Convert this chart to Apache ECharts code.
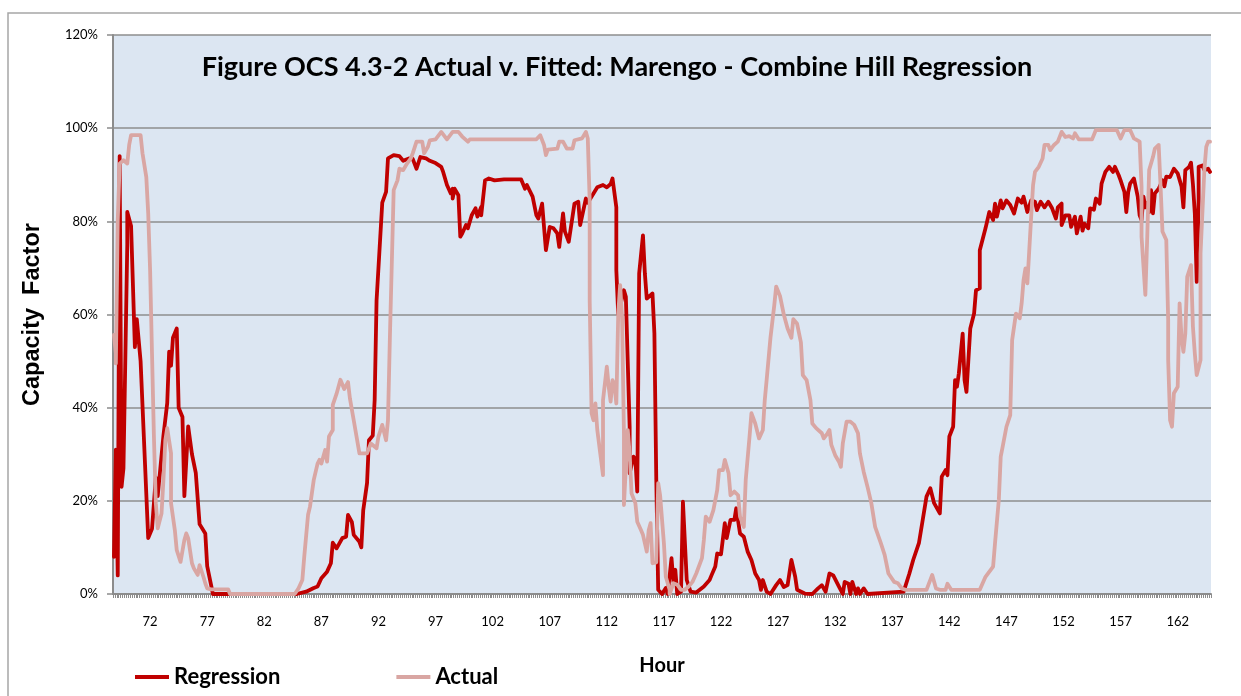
<!DOCTYPE html>
<html>
<head>
<meta charset="utf-8">
<script src="https://cdn.jsdelivr.net/npm/echarts@6/dist/echarts.min.js"></script>
<style>
html,body{margin:0;padding:0;background:#fff;}
#chart{width:1241px;height:696px;}
</style>
</head>
<body>
<div id="chart"></div>
<script>
// ---- Data (hour, capacity factor %) ----
const HOUR_START = 68 + 5 / 6;   // first 10-minute slot shown
const STEPS_PER_HOUR = 6;        // 10-minute data
const N_STEPS = 577;
const tickLabels = ['72','77','82','87','92','97','102','107','112','117','122','127','132','137','142','147','152','157','162'];
const yTicks = [0, 20, 40, 60, 80, 100, 120];

const regression = [
[68.83,8],[68.93,31],[69.10,4],[69.28,94],[69.52,23],[69.72,27],[69.94,75],[70.08,82],[70.33,79],
[70.62,53],[70.89,59],[71.21,50],[71.80,12],[72.15,14],[72.44,25],[72.73,21],[73.17,34],[73.46,41],
[73.60,52],[73.90,49],[74.04,55],[74.25,57],[74.54,40],[74.83,38],[75.07,21],[75.36,36],[75.71,30],
[75.94,26],[76.38,15],[76.76,13],[76.97,6],[77.41,2],[77.55,0],[84.86,0],[85.73,0.5],[86.29,1.3],
[86.72,1.6],[87.05,3.4],[87.49,4.8],[87.78,6.6],[87.98,11],[88.36,9.8],[88.80,12],[89.09,12.3],
[89.29,17],[89.59,15.5],[89.88,12.7],[90.26,11.2],[90.55,10],[90.69,18],[90.99,23.8],[91.22,33],
[91.43,34],[91.63,41.6],[91.87,63],[92.31,84],[92.68,86.3],[92.89,93.5],[93.32,94.2],[93.76,94],
[94.20,93],[94.61,93.5],[95.05,93.4],[95.37,91.3],[95.66,93.8],[96.10,93.5],[96.54,93],[96.98,92.5],
[97.42,91.7],[97.71,90.6],[98.06,87.8],[98.29,86],[98.44,87],[98.58,84.9],[98.73,87],[98.93,85.6],
[99.11,76.7],[99.32,77.4],[99.61,79.2],[99.90,78.5],[100.19,81.3],[100.48,82.8],[100.63,81],
[100.92,83.1],[101.07,81.3],[101.27,88.8],[101.65,89.2],[102.24,88.8],[102.96,89],[103.84,89],
[104.43,89],[104.78,87],[105.07,87.8],[105.45,85.3],[105.80,81.3],[106.03,80.6],[106.33,83.8],
[106.62,73.8],[106.99,78.8],[107.34,78.5],[107.64,77.4],[107.87,74.5],[108.17,81.7],[108.37,77.8],
[108.72,75.6],[109.16,83.8],[109.45,84.2],[109.69,79.2],[110.12,84.9],[110.41,84],[110.80,86],
[111.15,87.3],[111.59,87.8],[112.03,87.3],[112.29,88],[112.55,89.2],[112.75,83],[112.88,69.5],
[113.04,60],[113.43,65.2],[113.72,63.8],[113.92,35.9],[114.07,25.9],[114.36,29.5],[114.55,29],
[114.71,22],[114.89,68.8],[115.18,77],[115.38,68.8],[115.58,63.4],[116.06,64.5],[116.22,56],
[116.41,24.5],[116.55,0.9],[116.85,0],[117.14,1.3],[117.40,0],[117.64,7.7],[117.81,2.6],[118.01,5.2],
[118.19,0],[118.45,0.5],[118.74,19.8],[119.03,3],[119.26,0.5],[119.91,0.3],[120.49,1.6],[120.93,3],
[121.14,4],[121.43,5.9],[121.67,8.7],[121.96,8.5],[122.25,15.2],[122.55,12],[122.83,15.9],[123.10,15.9],
[123.36,18.4],[123.71,13],[124.00,12.3],[124.30,9.1],[124.74,7.3],[125.02,4.4],[125.31,3],[125.46,0.9],
[125.64,3],[125.99,0.5],[126.34,0],[126.77,1.9],[127.15,3],[127.50,1.5],[127.85,1.9],[128.24,7.3],
[128.53,3.7],[128.68,0.9],[129.26,0.1],[129.99,0],[130.43,1.2],[130.87,1.9],[131.16,0.5],[131.45,4.4],
[131.75,4],[132.04,4],[132.33,1.6],[132.62,0],[132.91,2.6],[133.20,2.2],[133.41,0],[133.58,2.6],
[133.79,0],[133.99,1.2],[134.20,0],[134.46,1.2],[134.75,0],[138.02,0.5],[138.46,4.4],[138.90,7.3],
[139.34,10.9],[139.63,15.9],[139.92,20.9],[140.36,22.7],[140.65,19.5],[141.09,17.3],[141.30,25.2],
[141.59,26.6],[141.82,25.5],[141.96,33.8],[142.26,35.9],[142.46,45.9],[142.70,44.5],[142.84,47.4],
[143.14,55.9],[143.28,45.9],[143.43,43.4],[143.63,50.2],[143.80,57],[144.10,60.2],[144.39,65.2],
[144.59,65.6],[144.72,73.8],[144.89,74.2],[145.18,78.5],[145.38,78.5],[145.56,82],[145.77,80.3],
[146.06,83.8],[146.21,81],[146.43,84.5],[146.73,82.8],[147.08,84.5],[147.37,83.5],[147.66,81.7],
[147.96,84.9],[148.25,84],[148.54,85.3],[148.83,82],[149.12,84.5],[149.47,84.2],[149.71,82.4],
[150.00,84.2],[150.35,83],[150.73,84.2],[151.02,82.8],[151.31,80.6],[151.52,83],[151.75,83.8],
[151.90,79.2],[152.19,81.3],[152.48,81.3],[152.69,78.8],[152.92,81],[153.22,77.4],[153.45,81],
[153.66,78],[153.86,79.5],[154.10,78.5],[154.38,82.8],[154.65,82.5],[154.82,84.9],[155.11,83.8],
[155.32,88.1],[155.61,90.6],[155.99,91.7],[156.29,90.6],[156.57,91.7],[156.78,89.9],[157.01,88.8],
[157.25,86.3],[157.45,82],[157.60,86.3],[157.89,88.1],[158.24,89.2],[158.48,85.3],[158.62,81.3],
[158.83,80.3],[159.06,85.3],[159.21,83],[159.38,84],[159.56,82],[159.71,86.7],[159.88,81.7],
[160.08,86],[160.35,87],[160.67,88.8],[160.88,87.5],[161.05,89.6],[161.40,89.5],[161.69,91.3],
[162.04,90.3],[162.28,87.5],[162.51,83],[162.71,91],[163.00,91.7],[163.24,92.6],[163.41,88],
[163.50,81.7],[163.61,67],[163.76,85],[163.90,91.7],[164.11,92],[164.34,91],[164.69,91.3],[164.83,90.6]
];

const actual = [
[68.83,55.6],[68.93,51.6],[69.08,49.5],[69.22,80.3],[69.37,92.4],[69.66,93.1],[69.96,92.4],[70.10,96.4],
[70.33,98.5],[71.12,98.5],[71.41,94.6],[71.71,89.5],[71.91,81.7],[72.06,69.5],[72.20,51.6],[72.38,33.8],
[72.53,19.5],[72.73,14.1],[72.96,17.3],[73.17,24.5],[73.31,33],[73.55,35.6],[73.75,30.2],[73.90,19.5],
[74.19,13.7],[74.34,9.4],[74.63,6.9],[74.80,7],[75.01,11.6],[75.22,13],[75.39,12],[75.59,6.6],
[75.88,5.5],[76.18,4.1],[76.38,6.2],[76.53,6.3],[76.67,3.7],[76.82,2.3],[77.08,1.2],[77.35,1],
[78.86,1],[79.01,0],[84.71,0],[85.00,1.2],[85.30,3],[85.58,8],[85.79,17],[86.08,18.7],[86.31,24.5],
[86.61,28],[86.90,28.8],[87.07,28],[87.25,30.9],[87.49,28.4],[87.71,33.8],[87.92,35.2],[88.07,40.6],
[88.39,43],[88.74,46],[89.00,44],[89.27,45.5],[89.53,42],[89.82,37.3],[90.26,30.2],[90.58,30],
[90.99,30.2],[91.28,32.3],[91.57,32.7],[91.81,31.3],[92.01,33.8],[92.31,36.3],[92.68,33],[92.89,37.3],
[93.03,55],[93.32,86.7],[93.62,88.8],[93.91,91.3],[94.20,91],[94.43,92.4],[94.70,92.2],[94.84,93.5],
[95.07,94.6],[95.31,97.1],[95.80,97.1],[95.95,94.6],[96.30,96],[96.54,97.4],[96.98,97.6],[97.42,99.2],
[97.71,99.2],[98.06,97.6],[98.44,99.2],[99.02,99.2],[99.41,98.2],[99.81,97.1],[100.05,97.6],
[105.89,97.6],[106.24,98.5],[106.47,96.4],[106.71,94.2],[106.91,95.4],[107.64,95.6],[107.87,97.1],
[108.22,97.1],[108.46,95.6],[108.96,95.6],[109.16,97.4],[109.83,97.8],[110.12,99.2],[110.41,97.8],
[110.50,84.5],[110.56,63],[110.71,38.8],[110.85,37.3],[111.00,40.9],[111.20,35.2],[111.59,25.5],
[111.73,41.6],[111.96,48.8],[112.17,44.5],[112.31,41.3],[112.46,45.9],[112.60,45],[112.81,40.9],
[113.04,60.2],[113.18,66.3],[113.33,59.5],[113.42,34.5],[113.54,19.1],[113.77,35.2],[114.00,30.2],
[114.21,21.6],[114.50,19.5],[114.71,15.5],[114.94,13.7],[115.23,12.7],[115.47,9.1],[115.67,13.7],
[115.82,15.2],[116.06,6.6],[116.25,6.8],[116.46,23.8],[116.69,21.2],[116.93,10.9],[117.13,3.7],
[117.42,0.9],[117.57,0],[117.86,2.3],[118.16,2],[118.45,0.9],[118.80,0.9],[119.18,1.6],[119.47,2.6],
[119.76,4.4],[120.05,4.8],[120.26,7.7],[120.44,11.6],[120.64,16.6],[121.02,15.5],[121.37,18],
[121.60,22.3],[121.89,26.6],[122.13,26.6],[122.39,28.8],[122.68,25.9],[122.89,21.2],[123.18,22],
[123.47,21.2],[123.71,16.6],[123.94,14.4],[124.23,24.5],[124.44,33.8],[124.73,38.8],[125.02,36.6],
[125.31,33.4],[125.61,35.2],[125.81,41.6],[125.99,46],[126.34,55],[126.60,62],[126.86,66],[127.12,64],
[127.48,60],[127.83,57],[128.09,55],[128.35,59],[128.70,58],[128.97,54],[129.23,47],[129.55,45.9],
[129.84,41.6],[130.08,36.6],[130.37,35.6],[130.78,34.5],[131.07,33.4],[131.31,34.5],[131.51,35.2],
[131.74,32],[132.03,29.8],[132.32,28.4],[132.47,27.3],[132.71,32.3],[132.99,37],[133.35,37],
[133.64,36.3],[133.93,34.5],[134.22,30.2],[134.51,26.2],[134.81,23],[135.10,19.5],[135.54,14.4],
[135.98,10.9],[136.33,8.4],[136.71,4.4],[137.14,2.6],[137.58,2.3],[137.88,1.2],[138.17,0.9],
[140.07,0.9],[140.51,4.1],[140.91,1.2],[141.24,0.9],[141.68,0.9],[141.90,2.2],[142.12,0.9],
[144.74,0.9],[145.09,3.7],[145.38,4.1],[145.77,5.9],[146.06,10.9],[146.26,20.2],[146.43,29.5],
[146.64,31.6],[146.93,35.9],[147.31,38.4],[147.52,54.5],[147.81,60.2],[148.10,59.2],[148.25,62.4],
[148.49,67.4],[148.69,69.9],[148.84,66.7],[148.98,73.8],[149.12,81],[149.27,87.8],[149.56,90.6],
[149.85,91.7],[150.15,93.5],[150.35,96.4],[150.61,96.4],[150.88,95.3],[151.16,96.4],[151.46,97.1],
[151.71,97.3],[151.90,99.2],[152.19,98.1],[152.48,98.3],[152.77,97.8],[153.06,98.9],[153.35,97.6],
[154.52,97.6],[154.82,99.6],[156.72,99.6],[157.01,97.8],[157.30,99.6],[157.89,99.6],[158.24,97.8],
[158.61,97.1],[158.76,87.5],[158.91,76.7],[159.11,64.2],[159.29,76.7],[159.49,91],[159.79,93.8],
[160.08,95.6],[160.37,96.4],[160.52,87.5],[160.67,77.8],[160.96,76],[161.10,58.8],[161.24,50.2],
[161.33,37.3],[161.54,35.9],[161.68,43.1],[161.98,44.5],[162.12,62.4],[162.33,55.2],[162.51,52],
[162.71,55.9],[162.86,68.1],[163.09,70.6],[163.29,57.4],[163.58,51.6],[163.73,47],[163.93,50.2],
[164.08,73.1],[164.26,91],[164.43,96],[164.72,97.1],[164.83,97.1]
];

// ---- Build ----
const categories = Array.from({length: N_STEPS}, (_, i) =>
  String(Math.round((HOUR_START + i / STEPS_PER_HOUR) * 1000) / 1000));
const toIdx = h => Math.min(N_STEPS - 1, Math.max(0, Math.round((h - HOUR_START) * STEPS_PER_HOUR)));
const toSeries = arr => arr.map(([h, v]) => [toIdx(h), v]);

const chart = echarts.init(document.getElementById('chart'), null, {renderer: 'canvas'});
const AXIS_GRAY = '#8c8c8c';
chart.setOption({
  animation: false,
  backgroundColor: '#ffffff',
  title: {
    text: 'Figure OCS 4.3-2 Actual v. Fitted: Marengo - Combine Hill Regression',
    left: 612, top: 49, textAlign: 'center',
    textStyle: {fontFamily: 'Lato', fontWeight: 'bold', fontSize: 27, color: '#000'}
  },
  legend: {
    data: ['Regression', 'Actual'],
    left: 135, top: 666, padding: 0,
    icon: 'rect', itemWidth: 34, itemHeight: 4, itemGap: 116,
    textStyle: {fontFamily: 'Lato', fontWeight: 'bold', fontSize: 22, color: '#000'}
  },
  grid: {
    left: 113, right: 30, top: 35, bottom: 102,
    show: true, backgroundColor: '#dce6f2', borderWidth: 0,
    containLabel: false, outerBoundsMode: 'none'
  },
  xAxis: {
    type: 'category',
    data: categories,
    boundaryGap: true,
    name: 'Hour', nameLocation: 'middle', nameGap: 62,
    nameTextStyle: {fontFamily: 'Lato', fontWeight: 'bold', fontSize: 20, color: '#000'},
    axisLine: {show: true, lineStyle: {color: AXIS_GRAY, width: 2}},
    axisTick: {show: true, interval: 0, length: 4, inside: false, lineStyle: {color: AXIS_GRAY, width: 1}},
    axisLabel: {
      interval: (i, v) => tickLabels.includes(v),
      margin: 21,
      fontFamily: 'Lato', fontSize: 13, color: '#000'
    },
    splitLine: {show: false}
  },
  yAxis: {
    type: 'value', min: yTicks[0], max: yTicks[yTicks.length - 1], interval: 20,
    name: 'Capacity  Factor', nameLocation: 'middle', nameGap: 68, nameRotate: 90,
    nameTextStyle: {fontFamily: 'Liberation Sans', fontWeight: 'bold', fontSize: 23.5, color: '#000'},
    axisLine: {show: true, lineStyle: {color: AXIS_GRAY, width: 2}},
    axisTick: {show: true, length: 6, lineStyle: {color: AXIS_GRAY, width: 1.5}},
    axisLabel: {formatter: '{value}%', margin: 15, fontFamily: 'Lato', fontSize: 13, color: '#000'},
    splitLine: {show: true, lineStyle: {color: '#8e8e8e', width: 1.5}}
  },
  series: [
    {
      name: 'Regression', type: 'line', data: toSeries(regression),
      showSymbol: false, symbol: 'none', smooth: false,
      color: '#c00000',
      lineStyle: {color: '#c00000', width: 3.8, join: 'round', cap: 'round'}
    },
    {
      name: 'Actual', type: 'line', data: toSeries(actual),
      showSymbol: false, symbol: 'none', smooth: false,
      color: '#d9a6a3',
      lineStyle: {color: '#d9a6a3', width: 3.8, join: 'round', cap: 'round'}
    }
  ],
  graphic: [
    {type: 'rect', shape: {x: 8, y: 13, width: 1300, height: 720}, style: {fill: 'none', stroke: '#a6a6a6', lineWidth: 1.5}, silent: true, z: -1}
  ]
});
</script>
</body>
</html>
